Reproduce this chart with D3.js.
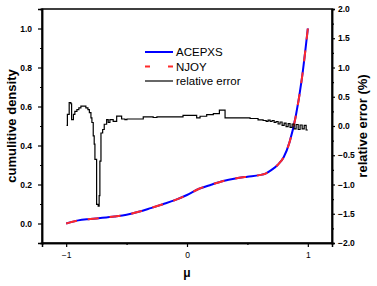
<!DOCTYPE html>
<html>
<head>
<meta charset="utf-8">
<script src="https://cdn.jsdelivr.net/npm/d3@7/dist/d3.min.js"></script>
<style>
  body { margin: 0; background: #fff; }
  svg text { font-family: "Liberation Sans", Arial, sans-serif; fill: #000; }
  .axis path, .axis line { stroke: #000; }
  .axis path { stroke-width: 1.5; }
  .axis line { stroke-width: 1.2; }
  .axis text { font-size: 8.5px; font-weight: bold; }
  .x-axis text { font-weight: normal; }
</style>
</head>
<body>
<div id="chart"></div>
<script>
// cumulative density on the mu grid
const muGrid = [-1, -0.9, -0.8, -0.7, -0.6, -0.5, -0.4, -0.3, -0.2, -0.1, 0, 0.1, 0.2, 0.3, 0.4, 0.5, 0.6, 0.65, 0.7, 0.75, 0.8, 0.85, 0.9, 0.95, 1];
const acepxs = [0, 0.016, 0.023, 0.029, 0.036, 0.045, 0.060, 0.079, 0.099, 0.120, 0.146, 0.178, 0.199, 0.218, 0.231, 0.240, 0.248, 0.256, 0.275, 0.30, 0.34, 0.42, 0.55, 0.74, 1.0];
const njoy   = [0, 0.016, 0.023, 0.029, 0.036, 0.045, 0.060, 0.079, 0.099, 0.120, 0.146, 0.178, 0.199, 0.218, 0.231, 0.240, 0.248, 0.256, 0.275, 0.30, 0.34, 0.42, 0.55, 0.74, 1.0];

// relative error (%), step line
const errMu = [-0.997, -0.99, -0.975, -0.961, -0.955, -0.94, -0.928, -0.911, -0.895, -0.878, -0.853, -0.837, -0.82, -0.808, -0.795, -0.787,
  -0.776, -0.768, -0.762, -0.748, -0.735, -0.727, -0.721, -0.712, -0.698, -0.685, -0.665, -0.652, -0.638, -0.611, -0.582, -0.541,
  -0.514, -0.497, -0.362, -0.28, -0.249, -0.033, 0.08, 0.108, 0.163, 0.218, 0.268, 0.315, 0.522, 0.588, 0.63,
  0.655, 0.671, 0.688, 0.704, 0.721, 0.737, 0.754, 0.77, 0.787, 0.804, 0.82, 0.837, 0.853, 0.87, 0.886, 0.903, 0.92, 0.936, 0.953, 0.97, 0.986, 1.0];
const errVal = [0.01, 0.2, 0.40, 0.38, 0.11, 0.2, 0.25, 0.28, 0.31, 0.34, 0.34, 0.31, 0.28, 0.23, 0.14, 0.06,
  -0.17, -0.31, -0.57, -1.34, -1.37, -1.19, -0.60, -0.12, -0.06, 0.03, 0.11, 0.06, 0.11, 0.08, 0.17, 0.12,
  0.11, 0.12, 0.157, 0.145, 0.157, 0.18, 0.14, 0.167, 0.196, 0.21, 0.27, 0.14, 0.128, 0.105, 0.094,
  0.08, 0.1, 0.077, 0.094, 0.06, 0.077, 0.034, 0.068, 0.01, 0.05, -0.01, 0.04, -0.025, 0.034, -0.05, 0.026, -0.06, 0.017, -0.05, 0.01, -0.068, -0.068];

const legendLabels = ["ACEPXS", "NJOY", "relative error"];
const xTicks = [-1, 0, 1];
const xMinor = [-0.5, 0.5];

const W = 377, H = 286;
const margin = {top: 9, right: 45, bottom: 43, left: 42};

const svg = d3.select("#chart").append("svg")
  .attr("width", W)
  .attr("height", H);

const x = d3.scaleLinear().domain([-1.2, 1.2]).range([margin.left, W - margin.right]);
const y = d3.scaleLinear().domain([-0.1, 1.1]).range([H - margin.bottom, margin.top]);
const y2 = d3.scaleLinear().domain([-2, 2]).range([H - margin.bottom, margin.top]);

// minor ticks first, then major axes on top
const minor = (axis, ticks) => axis.tickValues(ticks).tickSize(2).tickFormat("");

svg.append("g").attr("class", "axis")
  .attr("transform", `translate(0,${H - margin.bottom})`)
  .call(minor(d3.axisBottom(x), xMinor));
svg.append("g").attr("class", "axis")
  .attr("transform", `translate(${margin.left},0)`)
  .call(minor(d3.axisLeft(y), d3.range(0.1, 1.0, 0.2)));
svg.append("g").attr("class", "axis")
  .attr("transform", `translate(${W - margin.right},0)`)
  .call(minor(d3.axisRight(y2), d3.range(-1.75, 2, 0.5)));

svg.append("g").attr("class", "axis x-axis")
  .attr("transform", `translate(0,${H - margin.bottom})`)
  .call(d3.axisBottom(x).tickValues(xTicks).tickSize(4).tickPadding(5).tickFormat(d3.format("d")));

svg.append("g").attr("class", "axis")
  .attr("transform", `translate(${margin.left},0)`)
  .call(d3.axisLeft(y).tickValues(d3.range(0, 1.01, 0.2)).tickSize(4).tickPadding(6).tickFormat(d3.format(".1f")));

svg.append("g").attr("class", "axis")
  .attr("transform", `translate(${W - margin.right},0)`)
  .call(d3.axisRight(y2).tickValues(d3.range(-2, 2.01, 0.5)).tickSize(3).tickPadding(3).tickFormat(d3.format(".1f")));

// frame
svg.append("rect")
  .attr("x", margin.left).attr("y", margin.top)
  .attr("width", W - margin.left - margin.right)
  .attr("height", H - margin.top - margin.bottom)
  .attr("fill", "none").attr("stroke", "#000").attr("stroke-width", 1.5);

// curves
const cdfLine = d3.line().x(d => x(d[0])).y(d => y(d[1])).curve(d3.curveMonotoneX);
svg.append("path")
  .datum(muGrid.map((m, i) => [m, acepxs[i]]))
  .attr("d", cdfLine)
  .attr("fill", "none").attr("stroke", "#0000ff").attr("stroke-width", 2);
svg.append("path")
  .datum(muGrid.map((m, i) => [m, njoy[i]]))
  .attr("d", cdfLine)
  .attr("fill", "none").attr("stroke", "#ff2a2a").attr("stroke-width", 2)
  .attr("stroke-dasharray", "11,11");

const errLine = d3.line().x(d => x(d[0])).y(d => y2(d[1])).curve(d3.curveStepAfter);
svg.append("path")
  .datum(errMu.map((m, i) => [m, errVal[i]]))
  .attr("d", errLine)
  .attr("fill", "none").attr("stroke", "#000").attr("stroke-width", 1.2);

// legend
const legendStyles = [
  {stroke: "#0000ff", dash: null, w: 2},
  {stroke: "#ff2a2a", dash: "5,18", w: 2},
  {stroke: "#000", dash: null, w: 1.2}
];
const legend = svg.append("g").attr("transform", "translate(145,52)");
legendLabels.forEach((label, i) => {
  const g = legend.append("g").attr("transform", `translate(0,${i * 14.5})`);
  g.append("line")
    .attr("x1", 0).attr("x2", 28)
    .attr("stroke", legendStyles[i].stroke)
    .attr("stroke-width", legendStyles[i].w)
    .attr("stroke-dasharray", legendStyles[i].dash);
  g.append("text")
    .attr("x", 31).attr("dy", "0.35em")
    .style("font-size", "11.5px")
    .text(label);
});

// axis titles
svg.append("text")
  .attr("transform", `translate(16,${(margin.top + H - margin.bottom) / 2}) rotate(-90)`)
  .attr("text-anchor", "middle")
  .style("font-size", "13px").style("font-weight", "bold")
  .text("cumulitive density");

svg.append("text")
  .attr("transform", `translate(362,${(margin.top + H - margin.bottom) / 2}) rotate(-90)`)
  .attr("text-anchor", "middle")
  .attr("dy", "0.35em")
  .style("font-size", "13px").style("font-weight", "bold")
  .text("relative error (%)");

svg.append("text")
  .attr("x", x(0)).attr("y", 277)
  .attr("text-anchor", "middle")
  .style("font-size", "12px").style("font-weight", "bold")
  .text("μ");
</script>
</body>
</html>
